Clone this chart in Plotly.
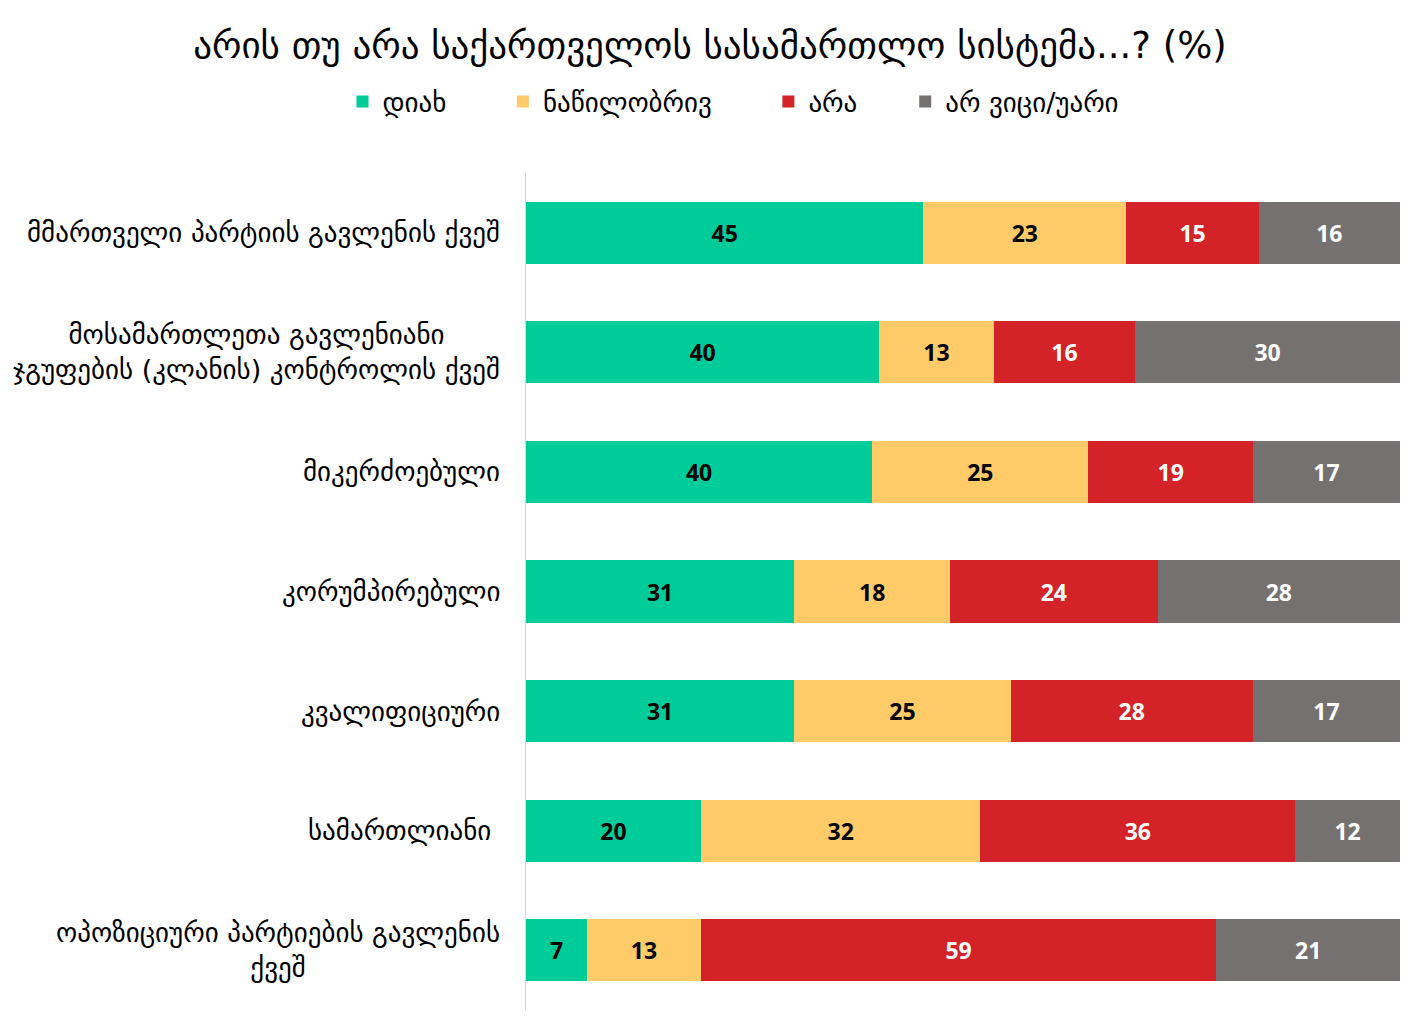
import plotly.graph_objects as go

# Survey: is Georgia's judicial system ... ? (%)
title_text = "არის თუ არა საქართველოს სასამართლო სისტემა...? (%)"

categories = [
    "მმართველი პარტიის გავლენის ქვეშ",
    "მოსამართლეთა გავლენიანი<br>ჯგუფების (კლანის) კონტროლის ქვეშ",
    "მიკერძოებული",
    "კორუმპირებული",
    "კვალიფიციური",
    "სამართლიანი ",
    "ოპოზიციური პარტიების გავლენის<br>ქვეშ",
]

series_names = ["დიახ", "ნაწილობრივ", "არა", "არ ვიცი/უარი"]

yes_values = [45, 40, 40, 31, 31, 20, 7]
partly_values = [23, 13, 25, 18, 25, 32, 13]
no_values = [15, 16, 19, 24, 28, 36, 59]
dont_know_values = [16, 30, 17, 28, 17, 12, 21]

series_values = [yes_values, partly_values, no_values, dont_know_values]
series_colors = ["#00CC99", "#FFCB69", "#D32328", "#767171"]
label_colors = ["#000000", "#000000", "#FFFFFF", "#FFFFFF"]

GEO_FONT = "DejaVu Sans, Noto Sans, sans-serif"
NUM_FONT = "Open Sans, Lato, sans-serif"

# the page body has an 8px margin, so the figure is drawn 8px smaller
W, H = 1414, 1025
legend_pads = [6, 6, 5, 6]  # trailing nbsp per legend entry, widens the gaps

fig = go.Figure()

for name, values, color, txt_color, pad in zip(series_names, series_values, series_colors,
                                                label_colors, legend_pads):
    fig.add_bar(
        y=categories,
        x=values,
        name=name + "\u00a0" * pad,
        orientation="h",
        marker=dict(color=color, line=dict(width=0)),
        text=values,
        texttemplate="<b>%{text}</b>",
        textposition="inside",
        insidetextanchor="middle",
        textangle=0,
        insidetextfont=dict(family=NUM_FONT, size=23, color=txt_color),
        hovertemplate="%{y}: %{text}<extra>" + name + "</extra>",
    )

# category labels as annotations so multi-line labels are centred
for cat in categories:
    fig.add_annotation(
        x=0, xref="paper", xanchor="right", xshift=-24,
        y=cat, yref="y", yanchor="middle",
        text=cat, showarrow=False, align="center",
        font=dict(family=GEO_FONT, size=27, color="#000000"),
    )

fig.update_layout(
    barmode="stack",
    barnorm="percent",
    bargap=0.48,
    width=W,
    height=H,
    autosize=False,
    paper_bgcolor="white",
    plot_bgcolor="white",
    margin=dict(l=518, r=22, t=165, b=23),
    font=dict(family=GEO_FONT, size=20, color="#000000"),
    title=dict(
        text=title_text,
        x=702 / W,
        xref="container",
        xanchor="center",
        y=1 - 37 / H,
        yref="container",
        yanchor="middle",
        font=dict(family=GEO_FONT, size=37, color="#000000"),
    ),
    legend=dict(
        orientation="h",
        x=751 / W,
        xref="container",
        xanchor="center",
        y=1 - 94 / H,
        yref="container",
        yanchor="middle",
        font=dict(family=GEO_FONT, size=27, color="#000000"),
        itemwidth=30,
        traceorder="normal",
    ),
    showlegend=True,
)

fig.update_xaxes(
    range=[0, 100],
    showgrid=False,
    showticklabels=False,
    zeroline=False,
    showline=False,
    ticks="",
    fixedrange=True,
)
fig.update_yaxes(
    autorange="reversed",
    showgrid=False,
    showline=True,
    linecolor="#D9D9D9",
    linewidth=1,
    ticks="",
    showticklabels=False,
    fixedrange=True,
)

fig.write_html("out.html")
